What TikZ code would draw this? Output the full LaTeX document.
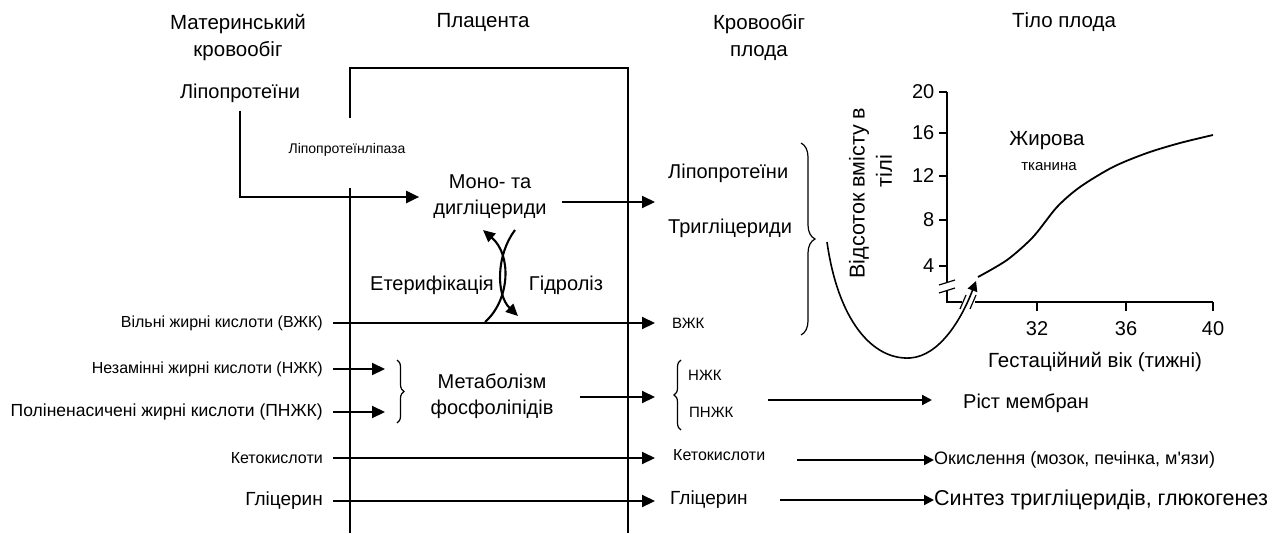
\documentclass[tikz,border=0pt]{standalone}
\usepackage{fontspec}
\setmainfont{Liberation Sans}
\usetikzlibrary{arrows.meta,decorations.pathreplacing}

\tikzset{
  flow/.style={line width=2.1pt,-{Triangle[length=13pt,width=12pt]}},
  flowsm/.style={line width=2.1pt,-{Triangle[length=10pt,width=10pt]}},
  wall/.style={line width=2.5pt},
  head/.style={font=\fontsize{20.5}{27}\selectfont,align=center,inner sep=0pt},
  txt/.style={font=\fontsize{16}{18}\selectfont,inner sep=0pt},
  abbr/.style={font=\fontsize{15}{18}\selectfont,inner sep=0pt},
  big/.style={font=\fontsize{20}{26}\selectfont,inner sep=0pt,align=center},
  small/.style={font=\fontsize{14}{16}\selectfont,inner sep=0pt},
  tick/.style={font=\fontsize{20}{22}\selectfont,inner sep=0pt},
  brc/.style={decorate,decoration={brace,amplitude=#1},line width=1.2pt},
}

\begin{document}
\begin{tikzpicture}[x=1pt,y=-1pt]
\useasboundingbox (0,0) rectangle (1274,533);

% column headings
\node[head] (mat) at (238,38) {Материнський\\кровообіг};
\node[head] (plac) at (483,22) {Плацента};
\node[head] (fet) at (759,38) {Кровообіг\\плода};
\node[head] (body) at (1064,22) {Тіло плода};

% placenta
\draw[wall] (350,118) -- (350,68) -- (628,68) -- (628,533);
\draw[wall] (350,188) -- (350,533);
\node[small] (lpl) at (347,150) {Ліпопротеїнліпаза};

% lipoproteins
\node[big] (lipoM) at (240,93) {Ліпопротеїни};
\node[big] (mono) at (490,197) {Моно- та\\дигліцериди};
\draw[flow,shorten <=8pt,shorten >=14pt] (lipoM.south) |- (mono.west);
\node[big,anchor=west] (lipoF) at (668,173) {Ліпопротеїни};
\node[big,anchor=west] (trigF) at (668,228) {Тригліцериди};
\coordinate (monoOut) at (655,202);
\draw[flow] (562,202) -- (monoOut);

% free fatty acids
\node[txt,anchor=east] (vzhkL) at (323,323) {Вільні жирні кислоти (ВЖК)};
\node[abbr,anchor=west] (vzhkR) at (672,323) {ВЖК};
\draw[flow,shorten <=10pt,shorten >=17pt] (vzhkL.east) -- (vzhkR.west);

% esterification / hydrolysis
\coordinate (est0) at (485,322);
\coordinate (est1) at (483,230);
\coordinate (hyd0) at (515,230);
\coordinate (hyd1) at (518,316);
\draw[flowsm,-{Triangle[length=12pt,width=11pt]}] (est0) .. controls (510,300) and (512,255) .. (est1);
\draw[flowsm,-{Triangle[length=12pt,width=11pt]}] (hyd0) .. controls (496,255) and (496,295) .. (hyd1);
\node[big] (ester) at (432,285) {Етерифікація};
\node[big] (hydro) at (566,285) {Гідроліз};

% essential fatty acids
\node[txt,anchor=east] (nzhkL) at (323,369) {Незамінні жирні кислоти (НЖК)};
\node[txt,anchor=east,font=\fontsize{17.5}{20}\selectfont] (pnzhkL) at (323,412) {Поліненасичені жирні кислоти (ПНЖК)};
\coordinate (nzhkIn) at (385,369);
\coordinate (pnzhkIn) at (385,412);
\draw[flow,shorten <=10pt] (nzhkL.east) -- (nzhkIn);
\draw[flow,shorten <=10pt] (pnzhkL.east) -- (pnzhkIn);
\draw[brc=7pt] (397,360) -- (397,423);
\node[big] (metab) at (492,396) {Метаболізм\\фосфоліпідів};
\coordinate (metabOut) at (655,397);
\draw[flow] (580,397) -- (metabOut);
\draw[brc=7pt] (681,430) -- (681,360);
\node[abbr,anchor=west] (nzhkR) at (688,375) {НЖК};
\node[abbr,anchor=west] (pnzhkR) at (689,412) {ПНЖК};
\node[big,anchor=west] (memb) at (963,403) {Ріст мембран};
\draw[flowsm] (768,400) -- (932,400);

% ketoacids
\node[txt,anchor=east] (ketoL) at (323,458) {Кетокислоти};
\node[txt,anchor=west] (ketoR) at (673,455) {Кетокислоти};
\draw[flow,shorten <=10pt,shorten >=18pt] (ketoL.east) -- (ketoR.west |- ketoL.east);
\node[txt,anchor=west,font=\fontsize{18}{20}\selectfont] (oxid) at (934,460) {Окислення (мозок, печінка, м\textquotesingle язи)};
\draw[flowsm] (797,460) -- (oxid.west);

% glycerol
\node[big,anchor=east,font=\fontsize{19}{22}\selectfont] (glyL) at (323,501) {Гліцерин};
\node[big,anchor=west,font=\fontsize{19}{22}\selectfont] (glyR) at (670,500) {Гліцерин};
\draw[flow,shorten <=10pt,shorten >=15pt] (glyL.east) -- (glyR.west |- glyL.east);
\node[big,anchor=west,font=\fontsize{21.5}{24}\selectfont] (synth) at (934,500) {Синтез тригліцеридів, глюкогенез};
\draw[flowsm] (780,500) -- (synth.west);

% brace to the graph
\draw[brc=14pt] (801,143) -- (801,335);
\draw[flowsm,line width=1.6pt] (827,242) .. controls (838,320) and (872,360) .. (910,358)
  .. controls (940,356) and (962,318) .. (976,281);

% graph
\draw[line width=1.5pt] (947,92) -- (947,282);
\draw[line width=1.5pt] (947,290) -- (947,302) -- (962,302);
\draw[line width=1.5pt] (975,302) -- (1213,302);
\draw[line width=1.2pt] (939,285) -- (955,280);
\draw[line width=1.2pt] (939,293) -- (955,288);
\draw[line width=1.2pt] (960,309) -- (966,295);
\draw[line width=1.2pt] (970,309) -- (976,295);
\foreach \v/\yy in {20/92,16/133,12/176,8/220,4/266}
  \draw[line width=1.5pt] (939,\yy) -- (947,\yy) node[tick,anchor=east,xshift=-12pt] {\v};
\foreach \w/\xx in {32/1037,36/1126,40/1213}
  \draw[line width=1.5pt] (\xx,302) -- (\xx,311) node[tick,anchor=north,yshift=-10pt] {\w};
\draw[line width=1.8pt] plot[smooth] coordinates {(978,277) (1007,260) (1033,237) (1057,207)
  (1080,187) (1113,167) (1147,153) (1180,143) (1213,135)};
\node[big,font=\fontsize{20.5}{24}\selectfont] (fat) at (1047,141) {Жирова};
\node[small,font=\fontsize{15}{17}\selectfont] (tiss) at (1049,167) {тканина};
\node[big,font=\fontsize{20.5}{24}\selectfont] (xlab) at (1095,362) {Гестаційний вік (тижні)};
\node[big,rotate=90,font=\fontsize{21.5}{24}\selectfont] (ylab1) at (859,193) {Відсоток вмісту в};
\node[big,rotate=90,font=\fontsize{22}{24}\selectfont] (ylab2) at (884,171) {тілі};

\end{tikzpicture}
\end{document}
